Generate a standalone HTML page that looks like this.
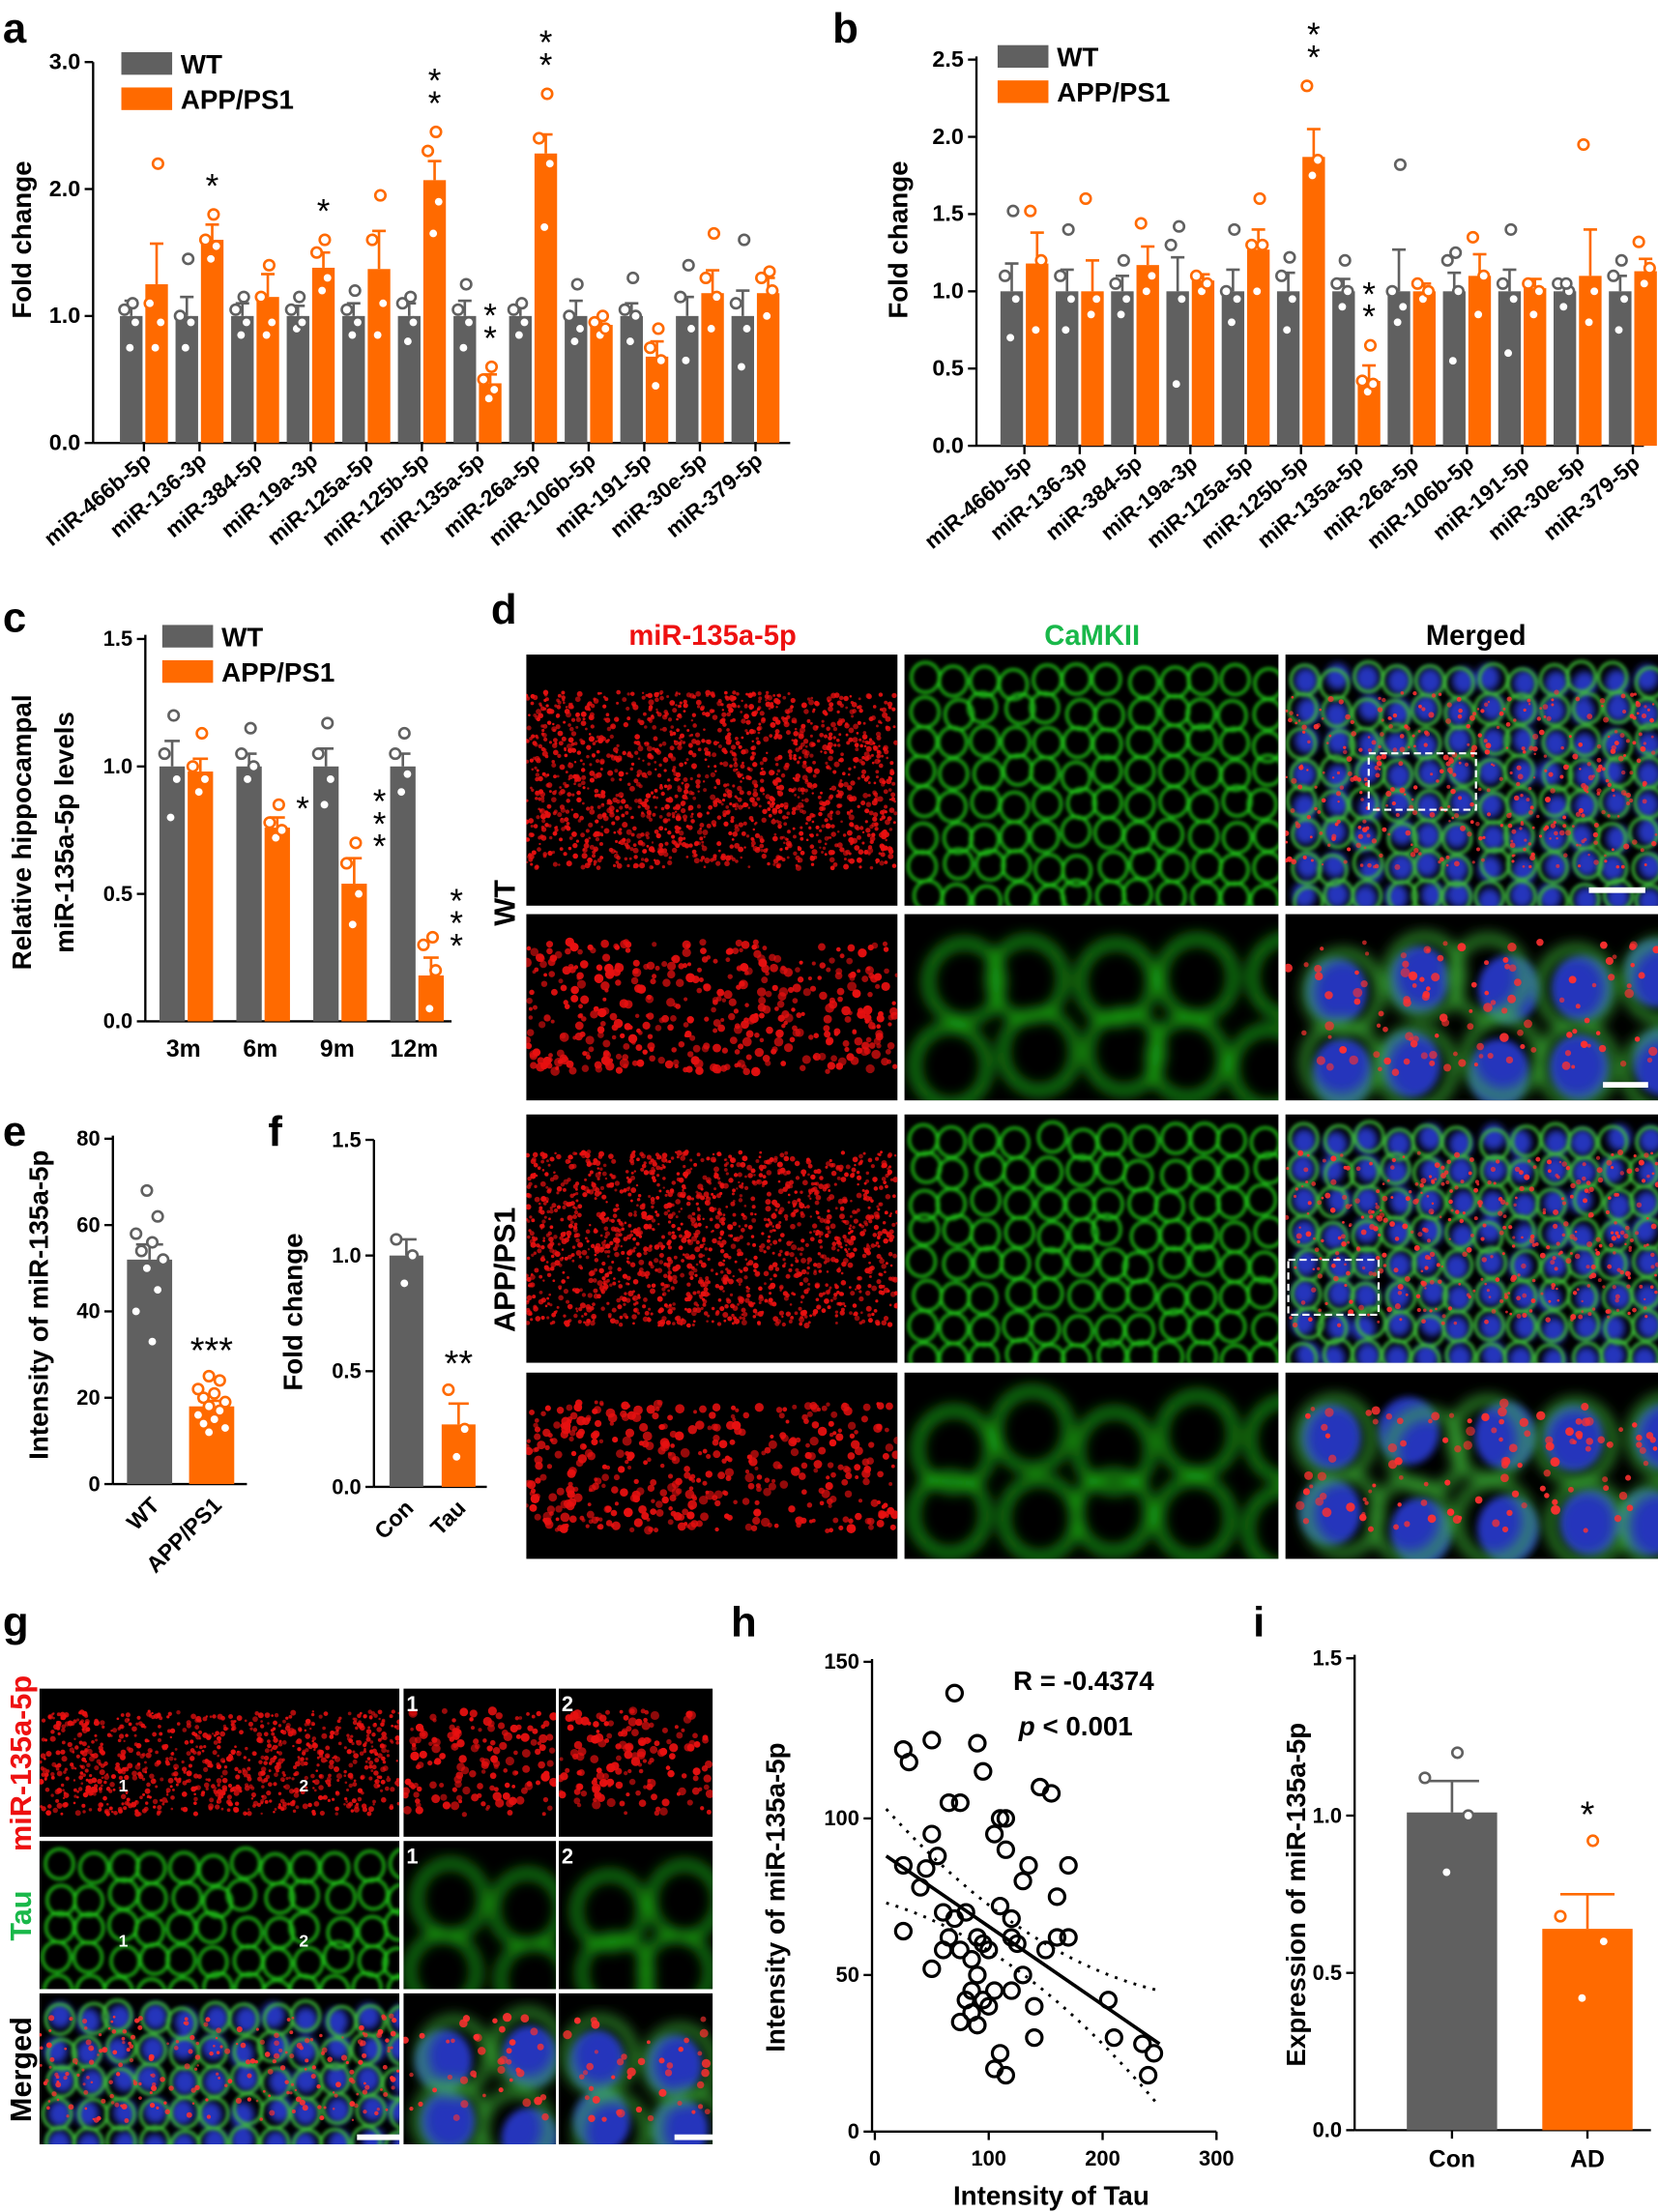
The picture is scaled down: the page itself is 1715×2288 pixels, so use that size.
<!DOCTYPE html>
<html><head><meta charset="utf-8">
<style>
html,body{margin:0;padding:0;background:#fff;}
svg{display:block;font-family:"Liberation Sans",Arial,sans-serif;font-weight:bold;}
</style></head>
<body>
<svg id="fig" width="1715" height="2288" viewBox="0 0 1175 1568" preserveAspectRatio="none" xmlns="http://www.w3.org/2000/svg">
<defs>
<filter id="blur1"><feGaussianBlur stdDeviation="1.2"/></filter>
<filter id="blur2"><feGaussianBlur stdDeviation="2.5"/></filter>
<filter id="blur4"><feGaussianBlur stdDeviation="5"/></filter>
</defs>
<g id="root"></g>
</svg>
<script>
// ---------- data ----------
const catsAB = ["miR-466b-5p","miR-136-3p","miR-384-5p","miR-19a-3p","miR-125a-5p","miR-125b-5p","miR-135a-5p","miR-26a-5p","miR-106b-5p","miR-191-5p","miR-30e-5p","miR-379-5p"];
const aWT = [1,1,1,1,1,1,1,1,1,1,1,1];
const aWTerr = [0.12,0.15,0.1,0.08,0.1,0.1,0.12,0.08,0.12,0.1,0.15,0.2];
const aAPP = [1.25,1.6,1.15,1.38,1.37,2.07,0.47,2.28,0.93,0.68,1.18,1.18];
const aAPPerr = [0.32,0.12,0.18,0.12,0.3,0.15,0.07,0.15,0.06,0.12,0.18,0.12];
const aWTpts = [[0.75,0.95,1.05,1.1],[0.75,0.95,1.0,1.45],[0.85,0.95,1.05,1.15],[0.9,0.95,1.05,1.15],[0.85,0.95,1.05,1.2],[0.8,0.95,1.1,1.15],[0.75,0.95,1.05,1.25],[0.85,0.95,1.05,1.1],[0.8,0.9,1.0,1.25],[0.8,1.0,1.05,1.3],[0.65,0.9,1.15,1.4],[0.6,0.9,1.1,1.6]];
const aAPPpts = [[0.75,0.95,1.1,2.2],[1.45,1.55,1.6,1.8],[0.85,0.95,1.15,1.4],[1.2,1.3,1.5,1.6],[0.85,1.1,1.6,1.95],[1.65,1.9,2.3,2.45],[0.35,0.42,0.5,0.6],[1.7,2.2,2.4,2.75],[0.85,0.9,0.95,1.0],[0.45,0.65,0.75,0.9],[0.9,1.15,1.3,1.65],[1.0,1.2,1.3,1.35]];
const aStars = ["","*","","*","","**","**","**","","","",""];
const aTicks = [0,1,2,3];
const aTickLabels = ["0.0","1.0","2.0","3.0"];

const bWT = [1,1,1,1,1,1,1,1,1,1,1,1];
const bWTerr = [0.18,0.14,0.1,0.22,0.14,0.12,0.08,0.27,0.12,0.14,0.05,0.1];
const bAPP = [1.18,1.0,1.17,1.07,1.27,1.87,0.42,1.0,1.1,1.02,1.1,1.13];
const bAPPerr = [0.2,0.2,0.12,0.04,0.13,0.18,0.1,0.05,0.14,0.06,0.3,0.08];
const bWTpts = [[0.7,0.95,1.1,1.52],[0.75,0.95,1.1,1.4],[0.85,0.95,1.05,1.2],[0.4,0.95,1.3,1.42],[0.8,0.95,1.0,1.4],[0.75,0.95,1.1,1.22],[0.9,1.0,1.05,1.2],[0.8,0.9,1.0,1.82],[0.55,1.0,1.2,1.25],[0.6,0.95,1.05,1.4],[0.9,1.0,1.05,1.05],[0.75,0.95,1.1,1.2]];
const bAPPpts = [[0.75,1.2,1.52],[0.85,0.95,1.6],[1.0,1.1,1.44],[1.0,1.05,1.1],[1.0,1.3,1.3,1.6],[1.75,1.85,2.33],[0.35,0.4,0.42,0.65],[0.95,1.0,1.05],[0.85,1.1,1.35],[0.85,1.0,1.05],[0.8,1.0,1.95],[1.05,1.15,1.32]];
const bStars = ["","","","","","**","**","","","","",""];
const bTicks = [0,0.5,1,1.5,2,2.5];
const bTickLabels = ["0.0","0.5","1.0","1.5","2.0","2.5"];

const cCats = ["3m","6m","9m","12m"];
const cWT = [1.0,1.0,1.0,1.0];
const cWTerr = [0.1,0.05,0.07,0.05];
const cAPP = [0.98,0.76,0.54,0.18];
const cAPPerr = [0.05,0.04,0.1,0.07];
const cWTpts = [[0.8,0.95,1.05,1.2],[0.95,1.0,1.05,1.15],[0.85,0.95,1.05,1.17],[0.9,0.97,1.05,1.13]];
const cAPPpts = [[0.9,0.95,1.0,1.13],[0.72,0.75,0.78,0.85],[0.38,0.5,0.62,0.7],[0.05,0.2,0.3,0.33]];
const cStars = ["","*","***","***"];

const eCats = ["WT","APP/PS1"];
const eVals = [52,18];
const eErr = [3.5,1.3];
const ePts = [[68,62,58,56,54,52,50,45,40,33],[25,24,22,21,20,19,18,17,16,15,14,13,12]];

const fCats = ["Con","Tau"];
const fVals = [1.0,0.27];
const fErr = [0.07,0.09];
const fPts = [[0.88,1.0,1.07],[0.13,0.25,0.42]];

const hX = [25,30,50,70,90,95,25,25,40,50,55,60,65,75,45,50,65,70,80,90,85,85,90,95,100,80,85,90,75,95,110,105,115,110,120,125,115,105,100,110,105,115,120,130,140,145,155,135,130,160,170,160,150,140,170,205,210,235,245,240,120,75,60];
const hY = [122,118,125,140,124,115,85,64,78,95,88,70,105,105,84,52,62,68,70,62,55,45,50,60,58,42,38,34,35,42,100,95,90,72,68,60,100,45,40,25,20,18,45,50,40,110,108,85,80,75,85,62,58,30,62,42,30,28,25,18,62,58,58];

const iCats = ["Con","AD"];
const iVals = [1.01,0.64];
const iErr = [0.1,0.11];
const iPts = [[0.82,1.0,1.12,1.2],[0.42,0.6,0.68,0.92]];

// ---------- helpers ----------
const NS="http://www.w3.org/2000/svg";
const root=document.getElementById('root');
function mk(tag,attrs,parent,text){const e=document.createElementNS(NS,tag);for(const k in attrs)e.setAttribute(k,attrs[k]);if(text!==undefined)e.textContent=text;(parent||root).appendChild(e);return e;}
const GREY="#606060", ORANGE="#ff6a00";

function axisY(x,y0,ppu,ticks,labels,top,fs){
  const g=mk('g',{});
  
  
  mk('line',{x1:x,y1:y0,x2:x,y2:top,stroke:'#000','stroke-width':1.6},g);
  ticks.forEach((t,i)=>{const y=y0-t*ppu;
    mk('line',{x1:x-6,y1:y,x2:x,y2:y,stroke:'#000','stroke-width':1.6},g);
    mk('text',{x:x-9,y:y+5,'text-anchor':'end','font-size':fs||15},g,labels[i]);});
  return g;
}
function yTitle(x,y,txt,fs){const t=mk('text',{x:x,y:y,'text-anchor':'middle','font-size':fs||19,transform:`rotate(-90 ${x} ${y})`},root,txt);
  return t;}
function bar(x,w,y0,ppu,v,err,pts,color,name){
  const g=mk('g',{});
  
  
  const top=y0-v*ppu;
  mk('line',{x1:x+w/2,y1:top,x2:x+w/2,y2:top-err*ppu,stroke:color,'stroke-width':1.8},g);
  mk('line',{x1:x+w/2-w*0.3,y1:top-err*ppu,x2:x+w/2+w*0.3,y2:top-err*ppu,stroke:color,'stroke-width':1.8},g);
  mk('rect',{x:x,y:top,width:w,height:v*ppu,fill:color},g);
  pts.forEach((p,i)=>{const n=pts.length;const dx=n>1?(i%2?1:-1)*w*0.18*((i%3)+0.5)/1.5:0;
    mk('circle',{cx:x+w/2+dx,cy:y0-p*ppu,r:3.6,fill:'#fff',stroke:color,'stroke-width':1.8},g);});
  return g;
}
function stars(x,y,s,vertical,fs){if(!s)return;
  if(vertical){for(let i=0;i<s.length;i++)mk('text',{x:x,y:y-i*16,'text-anchor':'middle','font-size':fs||24,'font-weight':'normal'},root,'*');}
  else mk('text',{x:x,y:y,'text-anchor':'middle','font-size':fs||24,'font-weight':'normal'},root,s);}
function legend(x,y,fs){
  const g=mk('g',{});
  mk('rect',{x:x,y:y,width:36,height:16,fill:GREY},g);mk('text',{x:x+42,y:y+15,'font-size':fs||19},g,'WT');
  mk('rect',{x:x,y:y+25,width:36,height:16,fill:ORANGE},g);mk('text',{x:x+42,y:y+40,'font-size':fs||19},g,'APP/PS1');
}
function panelLabel(x,y,t){const e=mk('text',{x:x,y:y,'font-size':30},root,t);}

function groupChart(o){
  axisY(o.ax,o.y0,o.ppu,o.ticks,o.tl,o.top,16);
  mk('line',{x1:o.ax,y1:o.y0,x2:o.xend,y2:o.y0,stroke:'#000','stroke-width':1.6});
  const starQueue=[];
  o.cats.forEach((c,i)=>{const cx=o.x0+i*o.sp;
    bar(cx-o.bw-1,o.bw,o.y0,o.ppu,o.wt[i],o.wte[i],o.wtp[i],GREY,'bar-wt-'+c);
    bar(cx+1,o.bw,o.y0,o.ppu,o.app[i],o.appe[i],o.appp[i],ORANGE,'bar-app-'+c);
    mk('line',{x1:cx,y1:o.y0,x2:cx,y2:o.y0+6,stroke:'#000','stroke-width':1.6});
    const t=mk('text',{x:cx+6,y:o.y0+14,'text-anchor':'end','font-size':15.5,transform:`rotate(-40 ${cx+6} ${o.y0+14})`},root,c);
    
    const s=o.stars[i]; if(s){const v=o.app[i]+o.appe[i];
      const ptop=Math.max(...o.appp[i]);
      starQueue.push([cx+1+o.bw/2,o.y0-Math.max(v,ptop)*o.ppu-12,s]);}
  });
  starQueue.forEach(q=>stars(q[0],q[1],q[2],q[2].length>1,24));
}

// ---------- panel a ----------
panelLabel(2,30,'a');
groupChart({ax:66,y0:314,ppu:90,top:44,ticks:aTicks,tl:aTickLabels,xend:560,cats:catsAB,x0:102,sp:39.4,bw:16,wt:aWT,wte:aWTerr,app:aAPP,appe:aAPPerr,wtp:aWTpts,appp:aAPPpts,stars:aStars});
yTitle(22,170,'Fold change');
legend(86,37);

// ---------- panel b ----------
panelLabel(590,30,'b');
groupChart({ax:692,y0:316,ppu:109.5,top:40,ticks:bTicks,tl:bTickLabels,xend:1165,cats:catsAB,x0:726,sp:39.2,bw:16,wt:bWT,wte:bWTerr,app:bAPP,appe:bAPPerr,wtp:bWTpts,appp:bAPPpts,stars:bStars});
yTitle(643,170,'Fold change');
legend(707,32);

// ---------- panel c ----------
panelLabel(2,448,'c');
(function(){const ax=103,y0=724,ppu=180.7;
  axisY(ax,y0,ppu,[0,0.5,1,1.5],["0.0","0.5","1.0","1.5"],450,15);
  mk('line',{x1:ax,y1:y0,x2:320,y2:y0,stroke:'#000','stroke-width':1.6});
  cCats.forEach((c,i)=>{const cx=132+i*54.5;
    bar(cx-19,18,y0,ppu,cWT[i],cWTerr[i],cWTpts[i],GREY,'bar-wt-'+c);
    bar(cx+1,18,y0,ppu,cAPP[i],cAPPerr[i],cAPPpts[i],ORANGE,'bar-app-'+c);
    mk('text',{x:cx-2,y:y0+25,'text-anchor':'middle','font-size':17},root,c);
    if(cStars[i]) stars(cx+28,y0-(cAPP[i]+cAPPerr[i])*ppu+(cStars[i].length>1?0:2),cStars[i],cStars[i].length>1,24);
  });
  yTitle(22,590,'Relative hippocampal',19);yTitle(52,590,'miR-135a-5p levels',19);
  legend(115,443,19);
})();

// ---------- panel e ----------
panelLabel(2,812,'e');
(function(){const ax=80,y0=1052,ppu=3.06;
  axisY(ax,y0,ppu,[0,20,40,60,80],["0","20","40","60","80"],805,15);
  mk('line',{x1:ax,y1:y0,x2:175,y2:y0,stroke:'#000','stroke-width':1.6});
  eCats.forEach((c,i)=>{const x=90+i*44;
    bar(x,32,y0,ppu,eVals[i],eErr[i],ePts[i],i?ORANGE:GREY,'bar-'+c);
    mk('text',{x:x+24,y:y0+16,'text-anchor':'end','font-size':16,transform:`rotate(-45 ${x+24} ${y0+16})`},root,c);});
  stars(150,y0-(eVals[1]+eErr[1])*ppu-27,'***',false,26);
  yTitle(34,925,'Intensity of miR-135a-5p',19);
})();

// ---------- panel f ----------
panelLabel(190,812,'f');
(function(){const ax=265,y0=1054,ppu=164;
  axisY(ax,y0,ppu,[0,0.5,1,1.5],["0.0","0.5","1.0","1.5"],808,15);
  mk('line',{x1:ax,y1:y0,x2:345,y2:y0,stroke:'#000','stroke-width':1.6});
  fCats.forEach((c,i)=>{const x=276+i*37;
    bar(x,24,y0,ppu,fVals[i],fErr[i],fPts[i],i?ORANGE:GREY,'bar-'+c);
    mk('text',{x:x+18,y:y0+16,'text-anchor':'end','font-size':16,transform:`rotate(-45 ${x+18} ${y0+16})`},root,c);});
  stars(325,y0-(Math.max(...fPts[1]))*ppu-10,'**',false,26);
  yTitle(214,930,'Fold change',19);
})();

// ---------- microscopy helpers ----------
let seed=7;function rnd(){seed=(seed*16807)%2147483647;return seed/2147483647;}
function micro(x,y,w,h,type,scale,name){
  const g=mk('g',{});
  const cid='clip'+Math.floor(rnd()*1e9);
  const cp=mk('clipPath',{id:cid},g);mk('rect',{x:x,y:y,width:w,height:h},cp);
  mk('rect',{x:x,y:y,width:w,height:h,fill:'#000'},g);
  const inner=mk('g',{'clip-path':`url(#${cid})`},g);
  const cell=22*scale;
  if(type==='green'||type==='merged'){
    if(type==='merged'){const bl=mk('g',{filter:'url(#blur2)'},inner);
      for(let cy=y+cell*0.7;cy<y+h;cy+=cell)for(let cx=x+cell*0.5;cx<x+w;cx+=cell)mk('ellipse',{cx:cx+rnd()*6*scale,cy:cy+rnd()*6*scale,rx:cell*0.38,ry:cell*0.42,fill:'#2a3cd0',opacity:0.9},bl);}
    const gg=mk('g',{filter:scale>2?'url(#blur4)':'url(#blur1)'},inner);
    for(let cy=y+cell*0.7;cy<y+h;cy+=cell)for(let cx=x+cell*0.5;cx<x+w;cx+=cell)mk('ellipse',{cx:cx+rnd()*6*scale,cy:cy+rnd()*6*scale,rx:cell*0.45,ry:cell*0.48,fill:'none',stroke:type==='merged'?'#3fbf3a':'#22c818','stroke-width':3*scale*0.8,opacity:0.85},gg);
  }
  if(type==='red'||type==='merged'){
    const n=type==='red'?Math.floor(w*h/(30*scale)):Math.floor(w*h/(120*scale));
    for(let i=0;i<n;i++){const px=x+rnd()*w;const py=y+h*(0.15+0.7*rnd());
      mk('circle',{cx:px,cy:py,r:(0.8+rnd()*1.3)*Math.sqrt(scale),fill:type==='red'?'#e81010':'#ff3030',opacity:0.6+0.4*rnd()},inner);}
  }
  return g;
}

// ---------- panel d ----------
panelLabel(348,442,'d');
mk('text',{x:505,y:457,'text-anchor':'middle','font-size':20,fill:'#e11'},root,'miR-135a-5p');
mk('text',{x:774,y:457,'text-anchor':'middle','font-size':20,fill:'#19b84a'},root,'CaMKII');
mk('text',{x:1046,y:457,'text-anchor':'middle','font-size':20},root,'Merged');
const cols=[[373,263],[641,265],[911,264]];
const rows=[[464,178,1],[648,132,2.6],[790,176,1],[973,132,2.6]];
rows.forEach((r,ri)=>{['red','green','merged'].forEach((t,ci)=>micro(cols[ci][0],r[0],cols[ci][1],r[1],t,r[2],`image-d-r${ri}-${t}`));});
mk('rect',{x:970,y:534,width:76,height:40,fill:'none',stroke:'#fff','stroke-width':1.5,'stroke-dasharray':'5 3'});
mk('rect',{x:913,y:893,width:64,height:39,fill:'none',stroke:'#fff','stroke-width':1.5,'stroke-dasharray':'5 3'});
mk('rect',{x:1126,y:629,width:40,height:4,fill:'#fff'});
mk('rect',{x:1136,y:767,width:32,height:4,fill:'#fff'});
mk('text',{x:365,y:640,'text-anchor':'middle','font-size':21,transform:'rotate(-90 365 640)'},root,'WT');
mk('text',{x:365,y:900,'text-anchor':'middle','font-size':21,transform:'rotate(-90 365 900)'},root,'APP/PS1');

// ---------- panel g ----------
panelLabel(2,1160,'g');
const gcols=[[28,255,1],[286,108,2.4],[396,109,2.4]];
const grows=[[1197,105,'red'],[1305,105,'green'],[1413,107,'merged']];
grows.forEach((r,ri)=>gcols.forEach((c,ci)=>micro(c[0],r[0],c[1],r[1],r[2],c[2],`image-g-r${ri}-c${ci}`)));
[['1',84,1270],['2',212,1270],['1',84,1380],['2',212,1380]].forEach(a=>mk('text',{x:a[1],y:a[2],'font-size':12,fill:'#fff'},root,a[0]));
[['1',288,1213],['2',398,1213],['1',288,1321],['2',398,1321]].forEach(a=>mk('text',{x:a[1],y:a[2],'font-size':15,fill:'#fff'},root,a[0]));
mk('rect',{x:253,y:1513,width:32,height:4,fill:'#fff'});
mk('rect',{x:478,y:1513,width:28,height:4,fill:'#fff'});
mk('text',{x:22,y:1250,'text-anchor':'middle','font-size':21,fill:'#e11',transform:'rotate(-90 22 1250)'},root,'miR-135a-5p');
mk('text',{x:22,y:1358,'text-anchor':'middle','font-size':21,fill:'#19b84a',transform:'rotate(-90 22 1358)'},root,'Tau');
mk('text',{x:22,y:1467,'text-anchor':'middle','font-size':21,transform:'rotate(-90 22 1467)'},root,'Merged');

// ---------- panel h ----------
panelLabel(518,1160,'h');
(function(){const ax=618,y0=1511,ppy=2.22,ppx=0.807;
  const X=v=>ax+2+v*ppx, Y=v=>y0-v*ppy;
  axisY(ax,y0,ppy,[0,50,100,150],["0","50","100","150"],1176,15);
  const xa=mk('g',{});
  mk('line',{x1:ax,y1:y0,x2:X(300),y2:y0,stroke:'#000','stroke-width':1.6},xa);
  [0,100,200,300].forEach(t=>{mk('line',{x1:X(t),y1:y0,x2:X(t),y2:y0+6,stroke:'#000','stroke-width':1.6},xa);
    mk('text',{x:X(t),y:y0+24,'text-anchor':'middle','font-size':15},xa,String(t));});
  mk('text',{x:745,y:1563,'text-anchor':'middle','font-size':19},root,'Intensity of Tau');
  yTitle(556,1345,'Intensity of miR-135a-5p',19);
  hX.forEach((xv,i)=>{const c=mk('circle',{cx:X(xv),cy:Y(hY[i]),r:5.5,fill:'none',stroke:'#000','stroke-width':2.2});
    });
  mk('line',{x1:X(10),y1:Y(88),x2:X(250),y2:Y(28),stroke:'#000','stroke-width':2.5});
  mk('path',{d:`M${X(10)} ${Y(103)} Q${X(130)} ${Y(55)} ${X(250)} ${Y(45)}`,fill:'none',stroke:'#000','stroke-width':2,'stroke-dasharray':'2 5'});
  mk('path',{d:`M${X(10)} ${Y(73)} Q${X(130)} ${Y(60)} ${X(250)} ${Y(8)}`,fill:'none',stroke:'#000','stroke-width':2,'stroke-dasharray':'2 5'});
  mk('text',{x:718,y:1198,'font-size':19},root,'R = -0.4374');
  const p=mk('text',{x:722,y:1230,'font-size':19},root,'');
  mk('tspan',{'font-style':'italic'},p,'p');mk('tspan',{},p,' < 0.001');
})();

// ---------- panel i ----------
panelLabel(888,1160,'i');
(function(){const ax=960,y0=1510,ppu=223;
  axisY(ax,y0,ppu,[0,0.5,1,1.5],["0.0","0.5","1.0","1.5"],1173,15);
  mk('line',{x1:ax,y1:y0,x2:1170,y2:y0,stroke:'#000','stroke-width':1.6});
  iCats.forEach((c,i)=>{const x=997+i*96;
    bar(x,64,y0,ppu,iVals[i],iErr[i],iPts[i],i?ORANGE:GREY,'bar-'+c);
    mk('line',{x1:x+32,y1:y0,x2:x+32,y2:y0+6,stroke:'#000','stroke-width':1.6},root);
    mk('text',{x:x+32,y:y0+26,'text-anchor':'middle','font-size':17},root,c);});
  stars(1125,y0-Math.max(...iPts[1])*ppu-10,'*',false,26);
  yTitle(925,1343,'Expression of miR-135a-5p',19);
})();
</script>
</body></html>
